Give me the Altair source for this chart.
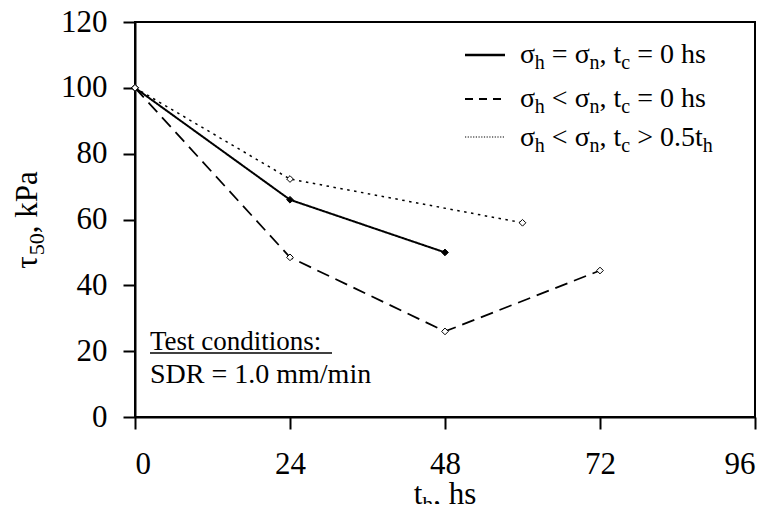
import altair as alt
import pandas as pd

# ---------------- data ----------------
series_names = ["sh=sn, tc=0", "sh<sn, tc=0", "sh<sn, tc>0.5th"]
t_solid = [0, 24, 48]
tau_solid = [100, 66, 50]
t_dashed = [0, 24, 48, 72]
tau_dashed = [100, 48.5, 26, 44.5]
t_dotted = [0, 24, 60]
tau_dotted = [100, 72.3, 59]
x_ticks = [0, 24, 48, 72, 96]
y_ticks = [0, 20, 40, 60, 80, 100, 120]

rows = []
for name, ts, vs in zip(series_names, [t_solid, t_dashed, t_dotted],
                        [tau_solid, tau_dashed, tau_dotted]):
    for i, (t, v) in enumerate(zip(ts, vs)):
        rows.append({"series": name, "t": t, "tau": v, "order": i})
df = pd.DataFrame(rows)

FONT = "Liberation Serif"
W, H = 620, 395

# approximate Liberation Serif advance widths (em)
WID = {" ": .25, "=": .564, "<": .564, ">": .564, ",": .25, ".": .25,
       "h": .5, "n": .5, "s": .389, "c": .444, "t": .278, "σ": .53,
       "τ": .44, "k": .5, "P": .556, "a": .444}
for d in "0123456789":
    WID[d] = .5


def txt_width(s, fs):
    return sum(WID.get(ch, .5) for ch in s) * fs


def seg_text(segments, x0, y0, size, subsize, subdy, angle=None, center=False):
    total = sum(txt_width(s, subsize if sub else size) for s, sub in segments)
    pos = -total / 2 if center else 0
    layers = []
    for s, sub in segments:
        fs = subsize if sub else size
        lead = len(s) - len(s.lstrip(" "))
        s_draw = s.lstrip(" ")
        p = pos + txt_width(" " * lead, fs)
        if angle is None:
            enc = dict(x=alt.value(x0 + p), y=alt.value(y0 + (subdy if sub else 0)))
            mk = alt.Chart(alt.Data(values=[{"a": 1}])).mark_text(
                text=s_draw, align="left", baseline="alphabetic",
                font=FONT, fontSize=fs, color="black")
        else:
            enc = dict(x=alt.value(x0 + (subdy if sub else 0)), y=alt.value(y0 - p))
            mk = alt.Chart(alt.Data(values=[{"a": 1}])).mark_text(
                text=s_draw, align="left", baseline="alphabetic",
                font=FONT, fontSize=fs, color="black", angle=270)
        layers.append(mk.encode(**enc))
        pos += txt_width(s, fs)
    return layers


xenc = alt.X("t:Q", scale=alt.Scale(domain=[0, 96], nice=False),
             axis=alt.Axis(values=x_ticks, title=None, labelPadding=20, format="d",
                           labelFont=FONT))
yenc = alt.Y("tau:Q", scale=alt.Scale(domain=[0, 120], nice=False),
             axis=alt.Axis(values=y_ticks, title=None, labelPadding=16, format="d",
                           labelFont=FONT))

lines = alt.Chart(df).mark_line(color="black").encode(
    x=xenc, y=yenc,
    detail="series:N",
    order="order:Q",
    strokeDash=alt.StrokeDash("series:N", legend=None,
                              scale=alt.Scale(domain=series_names,
                                              range=[[1, 0], [13, 7], [2.5, 4.5]])),
    strokeWidth=alt.StrokeWidth("series:N", legend=None,
                                scale=alt.Scale(domain=series_names, range=[2, 1.5, 2])),
)

points = alt.Chart(df).mark_point(shape="diamond", size=45, stroke="black",
                                  strokeWidth=1, opacity=1).encode(
    x="t:Q", y="tau:Q",
    fill=alt.Fill("series:N", legend=None,
                  scale=alt.Scale(domain=series_names, range=["black", "white", "white"])),
)

# ---------------- custom legend ----------------
leg_line_y = [33, 77, 115]
leg_text_y = [41, 85, 124]
leg_dash = [[1, 0], [8, 6], [1.2, 1.5]]
leg_w = [2.5, 2, 1.2]
legend_layers = []
for ly, dsh, sw in zip(leg_line_y, leg_dash, leg_w):
    legend_layers.append(
        alt.Chart(alt.Data(values=[{"a": 1}])).mark_rule(
            color="black", strokeWidth=sw, strokeDash=dsh).encode(
            x=alt.value(330), x2=alt.value(370), y=alt.value(ly)))

row_segs = [
    [("σ", 0), ("h", 1), (" = σ", 0), ("n", 1), (", t", 0), ("c", 1), (" = 0 hs", 0)],
    [("σ", 0), ("h", 1), (" < σ", 0), ("n", 1), (", t", 0), ("c", 1), (" = 0 hs", 0)],
    [("σ", 0), ("h", 1), (" < σ", 0), ("n", 1), (", t", 0), ("c", 1), (" > 0.5t", 0), ("h", 1)],
]
for segs, ty in zip(row_segs, leg_text_y):
    legend_layers += seg_text(segs, 385, ty, 28, 20, 6)

# ---------------- annotations ----------------
notes = [
    alt.Chart(alt.Data(values=[{"a": 1}])).mark_text(
        text="Test conditions:", align="left", baseline="alphabetic",
        font=FONT, fontSize=27, color="black").encode(x=alt.value(15), y=alt.value(328)),
    alt.Chart(alt.Data(values=[{"a": 1}])).mark_rule(color="black", strokeWidth=1.3).encode(
        x=alt.value(15), x2=alt.value(197), y=alt.value(331)),
    alt.Chart(alt.Data(values=[{"a": 1}])).mark_text(
        text="SDR = 1.0 mm/min", align="left", baseline="alphabetic",
        font=FONT, fontSize=28, color="black").encode(x=alt.value(15), y=alt.value(361)),
]

xtitle = seg_text([("t", 0), ("h", 1), (", hs", 0)], 310, 482, 31, 22, 7, center=True)
ytitle = seg_text([("τ", 0), ("50", 1), (", kPa", 0)], -98, 198, 31, 22, 7,
                  angle=270, center=True)

chart = alt.layer(lines, points, *legend_layers, *notes, *xtitle, *ytitle).properties(
    width=W, height=H,
    autosize=alt.AutoSizeParams(type="none"),
    padding={"left": 127, "top": 14, "right": 10, "bottom": 87},
).configure(font=FONT).configure_view(stroke="black", strokeWidth=2).configure_axis(
    grid=False, domainColor="black", domainWidth=2, tickColor="black", tickWidth=2,
    tickSize=12, labelFont=FONT, labelFontSize=31, labelColor="black",
)

chart.save("out.html", embed_options={"renderer": "svg", "actions": False})
